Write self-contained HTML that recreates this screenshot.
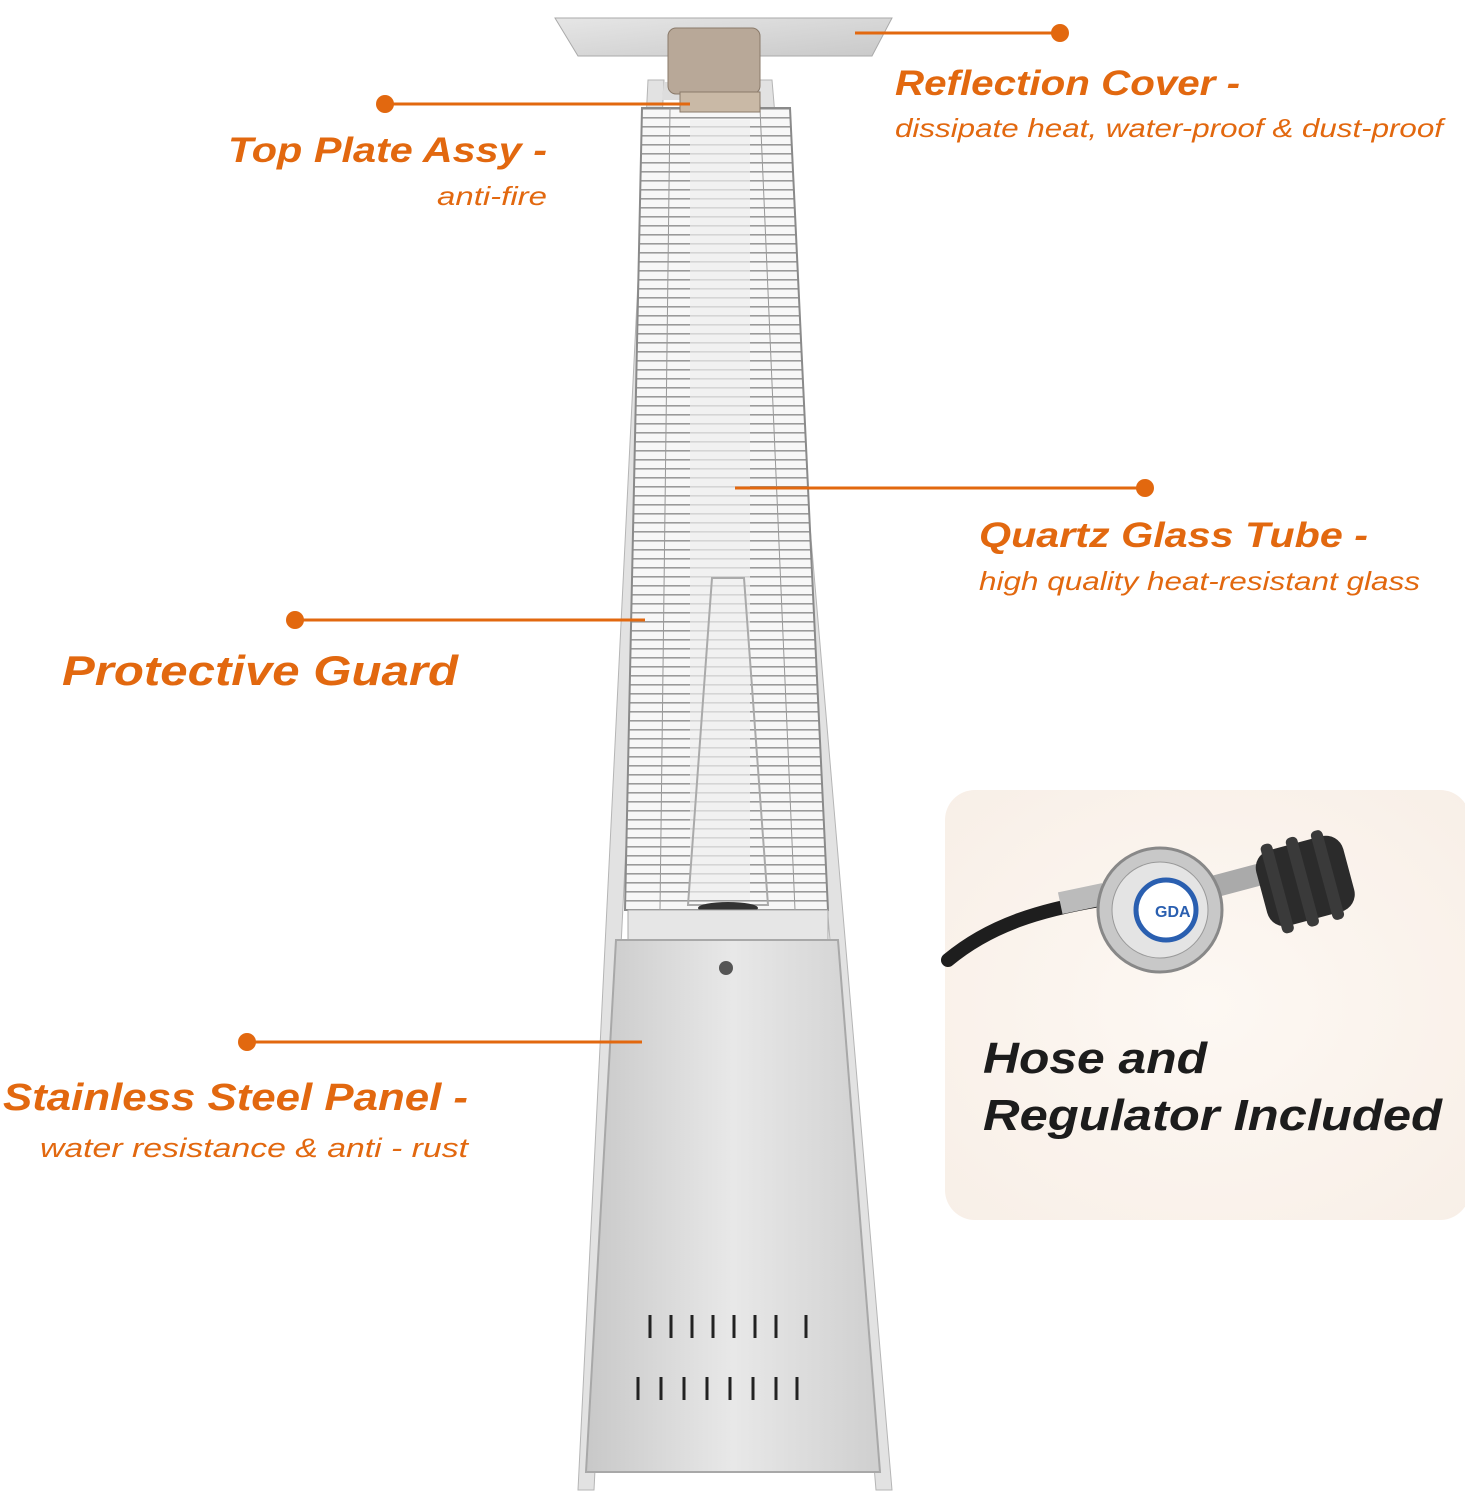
<!DOCTYPE html>
<html><head><meta charset="utf-8"><style>
html,body{margin:0;padding:0;background:#fff;}
svg{display:block;}
.t{font-family:"Liberation Sans",sans-serif;font-weight:bold;font-style:italic;fill:#e2680f;}
.s{font-family:"Liberation Sans",sans-serif;font-style:italic;fill:#e2680f;}
.k{font-family:"Liberation Sans",sans-serif;font-weight:bold;font-style:italic;fill:#1c1c1c;}
</style></head><body>
<svg width="1465" height="1500" viewBox="0 0 1465 1500" xmlns="http://www.w3.org/2000/svg">
<defs>
<pattern id="hl" width="10" height="9" patternUnits="userSpaceOnUse">
<rect x="0" y="0" width="10" height="1.6" fill="#9a9a9a"/>
</pattern>
<linearGradient id="steel" x1="0" x2="1" y1="0" y2="0">
<stop offset="0" stop-color="#c8c8c8"/><stop offset="0.5" stop-color="#e8e8e8"/><stop offset="1" stop-color="#cfcfcf"/>
</linearGradient>
<linearGradient id="cover" x1="0" x2="1" y1="0" y2="1">
<stop offset="0" stop-color="#e6e6e6"/><stop offset="1" stop-color="#c9c9c9"/>
</linearGradient>
<radialGradient id="bg" cx="0.5" cy="0.5" r="0.7">
<stop offset="0" stop-color="#fdf8f3"/><stop offset="1" stop-color="#f8efe7"/>
</radialGradient>
<clipPath id="gc"><polygon points="642,108 790,108 828,910 625,910"/></clipPath>
</defs>

<!-- frame legs -->
<polygon points="648,80 664,80 594,1490 578,1490" fill="#e2e2e2" stroke="#b5b5b5"/>
<polygon points="758,80 772,80 892,1490 876,1490" fill="#e2e2e2" stroke="#b5b5b5"/>
<polygon points="664,82 758,82 760,100 662,100" fill="#ddd"/>

<!-- guard grid -->
<g clip-path="url(#gc)">
<rect x="620" y="108" width="215" height="805" fill="#f7f7f7"/>
<rect x="620" y="108" width="215" height="805" fill="url(#hl)"/>
<rect x="690" y="120" width="60" height="780" fill="#eeeeee" opacity="0.7"/>
</g>
<polygon points="642,108 790,108 828,910 625,910" fill="none" stroke="#8a8a8a" stroke-width="2"/>
<line x1="670" y1="108" x2="660" y2="910" stroke="#999"/>
<line x1="760" y1="108" x2="795" y2="910" stroke="#999"/>
<!-- inner tube -->
<polygon points="712,578 744,578 768,905 688,905" fill="none" stroke="#aaa" stroke-width="2"/>
<ellipse cx="728" cy="908" rx="30" ry="6" fill="#333"/>
<rect x="628" y="910" width="200" height="30" fill="#e6e6e6" stroke="#aaa"/>

<!-- panel -->
<polygon points="616,940 838,940 880,1472 586,1472" fill="url(#steel)" stroke="#a8a8a8" stroke-width="2"/>
<circle cx="726" cy="968" r="7" fill="#555"/>
<g stroke="#222" stroke-width="3">
<line x1="650" y1="1315" x2="650" y2="1338"/><line x1="671" y1="1315" x2="671" y2="1338"/><line x1="692" y1="1315" x2="692" y2="1338"/><line x1="713" y1="1315" x2="713" y2="1338"/><line x1="734" y1="1315" x2="734" y2="1338"/><line x1="755" y1="1315" x2="755" y2="1338"/><line x1="776" y1="1315" x2="776" y2="1338"/><line x1="806" y1="1315" x2="806" y2="1338"/>
<line x1="638" y1="1377" x2="638" y2="1400"/><line x1="661" y1="1377" x2="661" y2="1400"/><line x1="684" y1="1377" x2="684" y2="1400"/><line x1="707" y1="1377" x2="707" y2="1400"/><line x1="730" y1="1377" x2="730" y2="1400"/><line x1="753" y1="1377" x2="753" y2="1400"/><line x1="776" y1="1377" x2="776" y2="1400"/><line x1="797" y1="1377" x2="797" y2="1400"/>
</g>

<!-- top cover -->
<polygon points="555,18 892,18 872,56 578,56" fill="url(#cover)" stroke="#aaa"/>
<rect x="668" y="28" width="92" height="66" rx="8" fill="#b8a898" stroke="#8a7a6a"/>
<rect x="680" y="92" width="80" height="20" fill="#c9b9a6" stroke="#8a7a6a"/>

<!-- callout lines -->
<g stroke="#e2680f" stroke-width="3" fill="#e2680f">
<line x1="855" y1="33" x2="1060" y2="33"/><circle cx="1060" cy="33" r="9" stroke="none"/>
<line x1="385" y1="104" x2="690" y2="104"/><circle cx="385" cy="104" r="9" stroke="none"/>
<line x1="735" y1="488" x2="1145" y2="488"/><circle cx="1145" cy="488" r="9" stroke="none"/>
<line x1="295" y1="620" x2="645" y2="620"/><circle cx="295" cy="620" r="9" stroke="none"/>
<line x1="247" y1="1042" x2="642" y2="1042"/><circle cx="247" cy="1042" r="9" stroke="none"/>
</g>

<!-- labels -->
<text class="t" x="895" y="95" font-size="35" textLength="345" lengthAdjust="spacingAndGlyphs">Reflection Cover -</text>
<text class="s" x="895" y="137" font-size="26" textLength="548" lengthAdjust="spacingAndGlyphs">dissipate heat, water-proof &amp; dust-proof</text>
<text class="t" x="228" y="162" font-size="35" textLength="319" lengthAdjust="spacingAndGlyphs">Top Plate Assy -</text>
<text class="s" x="437" y="205" font-size="26" textLength="110" lengthAdjust="spacingAndGlyphs">anti-fire</text>
<text class="t" x="979" y="547" font-size="35" textLength="389" lengthAdjust="spacingAndGlyphs">Quartz Glass Tube -</text>
<text class="s" x="979" y="590" font-size="26" textLength="441" lengthAdjust="spacingAndGlyphs">high quality heat-resistant glass</text>
<text class="t" x="62" y="685" font-size="42" textLength="396" lengthAdjust="spacingAndGlyphs">Protective Guard</text>
<text class="t" x="3" y="1110" font-size="38" textLength="465" lengthAdjust="spacingAndGlyphs">Stainless Steel Panel -</text>
<text class="s" x="40" y="1157" font-size="27" textLength="428" lengthAdjust="spacingAndGlyphs">water resistance &amp; anti - rust</text>

<!-- hose box -->
<rect x="945" y="790" width="525" height="430" rx="30" fill="url(#bg)"/>
<path d="M948,960 C990,925 1040,910 1100,900" stroke="#1e1e1e" stroke-width="14" fill="none" stroke-linecap="round"/>
<rect x="1060" y="888" width="45" height="22" fill="#bbb" transform="rotate(-12 1080 900)"/>
<rect x="1210" y="870" width="55" height="22" fill="#aaa" transform="rotate(-15 1235 880)"/>
<circle cx="1160" cy="910" r="62" fill="#c8c8c8" stroke="#888" stroke-width="3"/>
<circle cx="1160" cy="910" r="48" fill="#e4e4e4" stroke="#999"/>
<circle cx="1166" cy="910" r="30" fill="#fff" stroke="#2a5fb0" stroke-width="5"/>
<text x="1155" y="917" font-family="Liberation Sans,sans-serif" font-size="16" font-weight="bold" fill="#2a5fb0">GDA</text>
<g transform="rotate(-15 1305 880)">
<rect x="1260" y="842" width="90" height="78" rx="18" fill="#2b2b2b"/>
<rect x="1270" y="835" width="12" height="92" rx="5" fill="#3a3a3a"/>
<rect x="1296" y="835" width="12" height="92" rx="5" fill="#3a3a3a"/>
<rect x="1322" y="835" width="12" height="92" rx="5" fill="#3a3a3a"/>
</g>
<text class="k" x="983" y="1073" font-size="44" textLength="224" lengthAdjust="spacingAndGlyphs">Hose and</text>
<text class="k" x="983" y="1130" font-size="44" textLength="459" lengthAdjust="spacingAndGlyphs">Regulator Included</text>
</svg>
</body></html>
